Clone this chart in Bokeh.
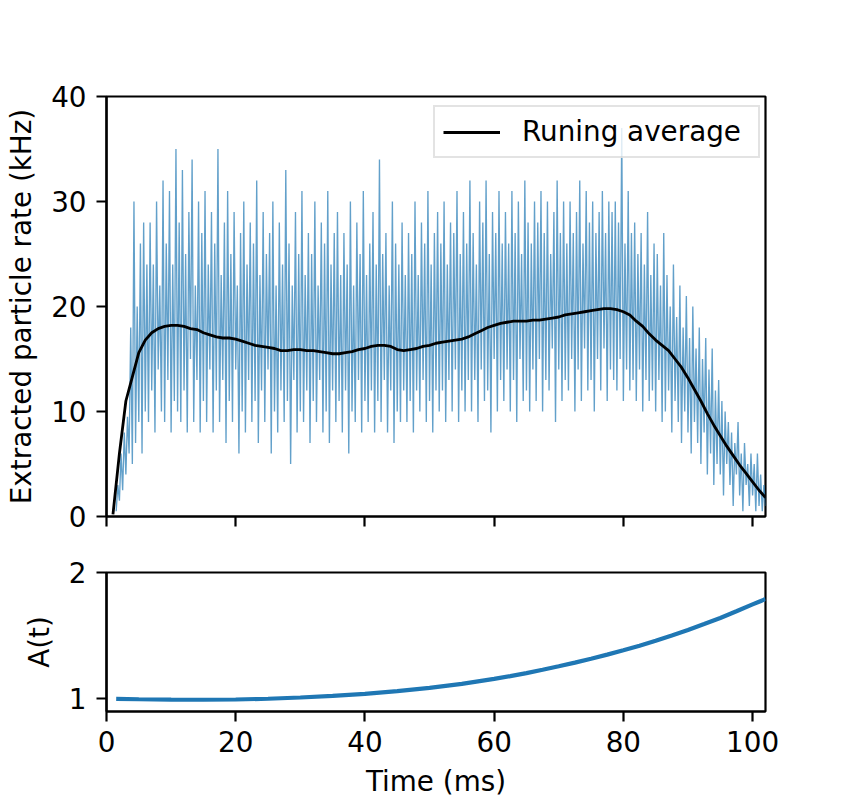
import numpy as np
from bokeh.plotting import figure
from bokeh.layouts import column
from bokeh.models import FixedTicker, Range1d
from bokeh.embed import file_html
from bokeh.resources import INLINE

# ---------------- data ----------------
# raw extracted particle rate (kHz), sampled every 0.25 ms starting at 1.5 ms
raw_t0 = 1.5
raw_dt = 0.25
raw_rate = [
    0.5, 3, 1.5, 6, 2.5, 8, 4, 9.5, 6, 18, 5, 30, 7, 20, 9, 26, 6, 28, 10, 24,
    9, 28, 12, 24, 8, 30, 14, 22, 10, 32, 9, 26, 13, 31, 8, 24, 11, 35, 10, 28,
    9, 33, 12, 25, 8, 29, 15, 34, 9, 22, 13, 30, 8, 27, 11, 31, 9, 24, 14, 29,
    8, 26, 12, 35, 9, 23, 13, 28, 7, 31, 11, 25, 9, 29, 14, 22, 6, 27, 10, 30,
    8, 24, 13, 28, 9, 26, 11, 32, 7, 23, 12, 29, 9, 25, 14, 27, 6, 30, 10, 22,
    8, 28, 12, 24, 9, 33, 11, 26, 5, 22, 13, 29, 8, 25, 10, 31, 9, 23, 12, 27,
    7, 25, 11, 30, 9, 22, 13, 28, 8, 26, 10, 31, 7, 24, 12, 27, 9, 29, 11, 23,
    8, 27, 12, 24, 6, 30, 10, 22, 9, 28, 13, 25, 8, 31, 11, 23, 9, 26, 12, 29,
    8, 24, 11, 34, 9, 25, 13, 27, 8, 22, 12, 30, 7, 26, 10, 24, 9, 28, 12, 23,
    9, 27, 11, 25, 8, 30, 12, 23, 10, 28, 13, 26, 9, 31, 11, 24, 8, 27, 12, 29,
    10, 26, 12, 30, 9, 24, 13, 28, 10, 27, 14, 31, 9, 25, 12, 29, 10, 26, 13, 32,
    10, 27, 13, 24, 9, 30, 14, 28, 11, 32, 12, 25, 8, 29, 15, 27, 10, 31, 13, 26,
    11, 29, 14, 26, 10, 31, 13, 27, 9, 30, 15, 25, 11, 32, 12, 28, 10, 26, 14, 30,
    11, 28, 15, 31, 10, 27, 13, 30, 12, 25, 16, 29, 9, 32, 14, 27, 11, 30, 13, 26,
    12, 30, 15, 27, 10, 29, 14, 32, 11, 26, 16, 31, 12, 28, 13, 30, 10, 27, 15, 29,
    12, 31, 16, 27, 11, 30, 14, 29, 13, 30, 12, 28, 15, 37, 11, 26, 14, 31, 12, 27,
    13, 28, 11, 25, 14, 27, 10, 24, 13, 29, 11, 23, 12, 26, 10, 25, 13, 22, 9, 27,
    10, 23, 12, 20, 8, 24, 11, 19, 9, 22, 7, 18, 10, 21, 8, 17, 6, 20, 9, 16,
    7, 18, 5, 15, 8, 17, 4, 14, 6, 16, 3, 12, 5, 13, 4, 11, 2, 10, 5, 9,
    3, 8, 1, 7, 4, 9, 2, 6, 0.5, 7, 3, 5, 1, 6, 2, 5, 0.5, 6, 1, 4,
    0.5, 3, 1,
]

# running average (kHz), one value per ms
avg_t = list(range(1, 103))
avg_rate = [
    0.2, 6.0, 11.0, 13.3, 15.6, 16.8, 17.5, 17.9, 18.1, 18.2,
    18.2, 18.1, 17.9, 17.8, 17.5, 17.3, 17.1, 17.0, 17.0, 16.9,
    16.7, 16.5, 16.3, 16.2, 16.1, 16.0, 15.8, 15.8, 15.9, 15.9,
    15.8, 15.8, 15.7, 15.6, 15.5, 15.5, 15.6, 15.7, 15.9, 16.0,
    16.2, 16.3, 16.3, 16.2, 15.9, 15.8, 15.9, 16.0, 16.2, 16.3,
    16.5, 16.6, 16.7, 16.8, 16.9, 17.1, 17.4, 17.7, 18.0, 18.2,
    18.4, 18.5, 18.6, 18.6, 18.6, 18.7, 18.7, 18.8, 18.9, 19.0,
    19.2, 19.3, 19.4, 19.5, 19.6, 19.7, 19.8, 19.8, 19.7, 19.5,
    19.2, 18.6, 18.1, 17.4, 16.8, 16.3, 15.8, 15.0, 14.2, 13.2,
    12.1, 11.0, 9.8, 8.7, 7.7, 6.7, 5.8, 4.9, 4.1, 3.3,
    2.5, 1.8,
]

# A(t)
a_t = [1.5, 5, 10, 15, 20, 25, 30, 35, 40, 45, 50, 55, 60, 62.5, 65, 67.5, 70, 72.5,
       75, 77.5, 80, 82.5, 85, 87.5, 90, 92.5, 95, 97.5, 100, 101, 102]
a_val = [1.000, 0.997, 0.994, 0.993, 0.995, 1.001, 1.011, 1.024, 1.040, 1.061, 1.087,
         1.119, 1.158, 1.180, 1.204, 1.230, 1.258, 1.287, 1.318, 1.350, 1.384, 1.421,
         1.460, 1.502, 1.545, 1.592, 1.640, 1.693, 1.748, 1.769, 1.790]

x_ticks = [0, 20, 40, 60, 80, 100]
top_y_ticks = [0, 10, 20, 30, 40]
bot_y_ticks = [1, 2]

# ---------------- styling ----------------
FONT = "DejaVu Sans"
FS = "27.8px"
LW = 2.2


def style_axes(p):
    p.outline_line_color = "black"
    p.outline_line_width = LW
    p.xgrid.visible = False
    p.ygrid.visible = False
    p.background_fill_color = "white"
    p.border_fill_color = "white"
    for ax in (p.xaxis[0], p.yaxis[0]):
        ax.axis_line_width = LW
        ax.axis_line_color = "black"
        ax.major_tick_line_width = LW
        ax.major_tick_line_color = "black"
        ax.major_tick_out = 10
        ax.major_tick_in = 0
        ax.minor_tick_line_color = None
        ax.major_label_text_font = FONT
        ax.major_label_text_font_size = FS
        ax.major_label_text_color = "black"
        ax.axis_label_text_font = FONT
        ax.axis_label_text_font_size = FS
        ax.axis_label_text_font_style = "normal"
        ax.axis_label_text_color = "black"
    p.xaxis[0].major_label_standoff = 9
    p.xaxis[0].axis_label_standoff = 10
    p.yaxis[0].major_label_standoff = 10
    p.yaxis[0].axis_label_standoff = 10


raw_t = [raw_t0 + raw_dt * i for i in range(len(raw_rate))]

W = 842
top = figure(width=W, height=548, x_range=Range1d(0, 102), y_range=Range1d(0, 40),
             output_backend="svg", toolbar_location=None,
             min_border_left=106, min_border_right=77, min_border_top=96, min_border_bottom=32)
style_axes(top)
top.line(raw_t, raw_rate, line_color="#1f77b4", line_width=1.35, line_alpha=0.7)
top.line(avg_t, avg_rate, line_color="black", line_width=2.8, legend_label="Runing average")
top.xaxis.ticker = FixedTicker(ticks=x_ticks)
top.xaxis.major_label_overrides = {t: "" for t in x_ticks}
top.yaxis.ticker = FixedTicker(ticks=top_y_ticks)
top.yaxis.axis_label = "Extracted particle rate (kHz)"

leg = top.legend[0]
leg.location = (327, 358)
leg.margin = 0
leg.padding = 8
leg.spacing = 0
leg.glyph_width = 57
leg.glyph_height = 30
leg.label_standoff = 22
leg.label_width = 228
leg.label_text_font = FONT
leg.label_text_font_size = FS
leg.label_text_color = "black"
leg.border_line_color = "#c8c8c8"
leg.border_line_width = 2
leg.background_fill_alpha = 0.8

bot = figure(width=W, height=252, x_range=Range1d(0, 102), y_range=Range1d(0.9, 2.0),
             output_backend="svg", toolbar_location=None,
             min_border_left=106, min_border_right=77, min_border_top=24, min_border_bottom=88)
style_axes(bot)
bot.line(a_t, a_val, line_color="#1f77b4", line_width=4.2)
bot.xaxis.ticker = FixedTicker(ticks=x_ticks)
bot.yaxis.ticker = FixedTicker(ticks=bot_y_ticks)
bot.xaxis.axis_label = "Time (ms)"
bot.yaxis.axis_label = "A(t)"

layout = column(top, bot, spacing=0)
open("out.html", "w").write(file_html(layout, INLINE))
